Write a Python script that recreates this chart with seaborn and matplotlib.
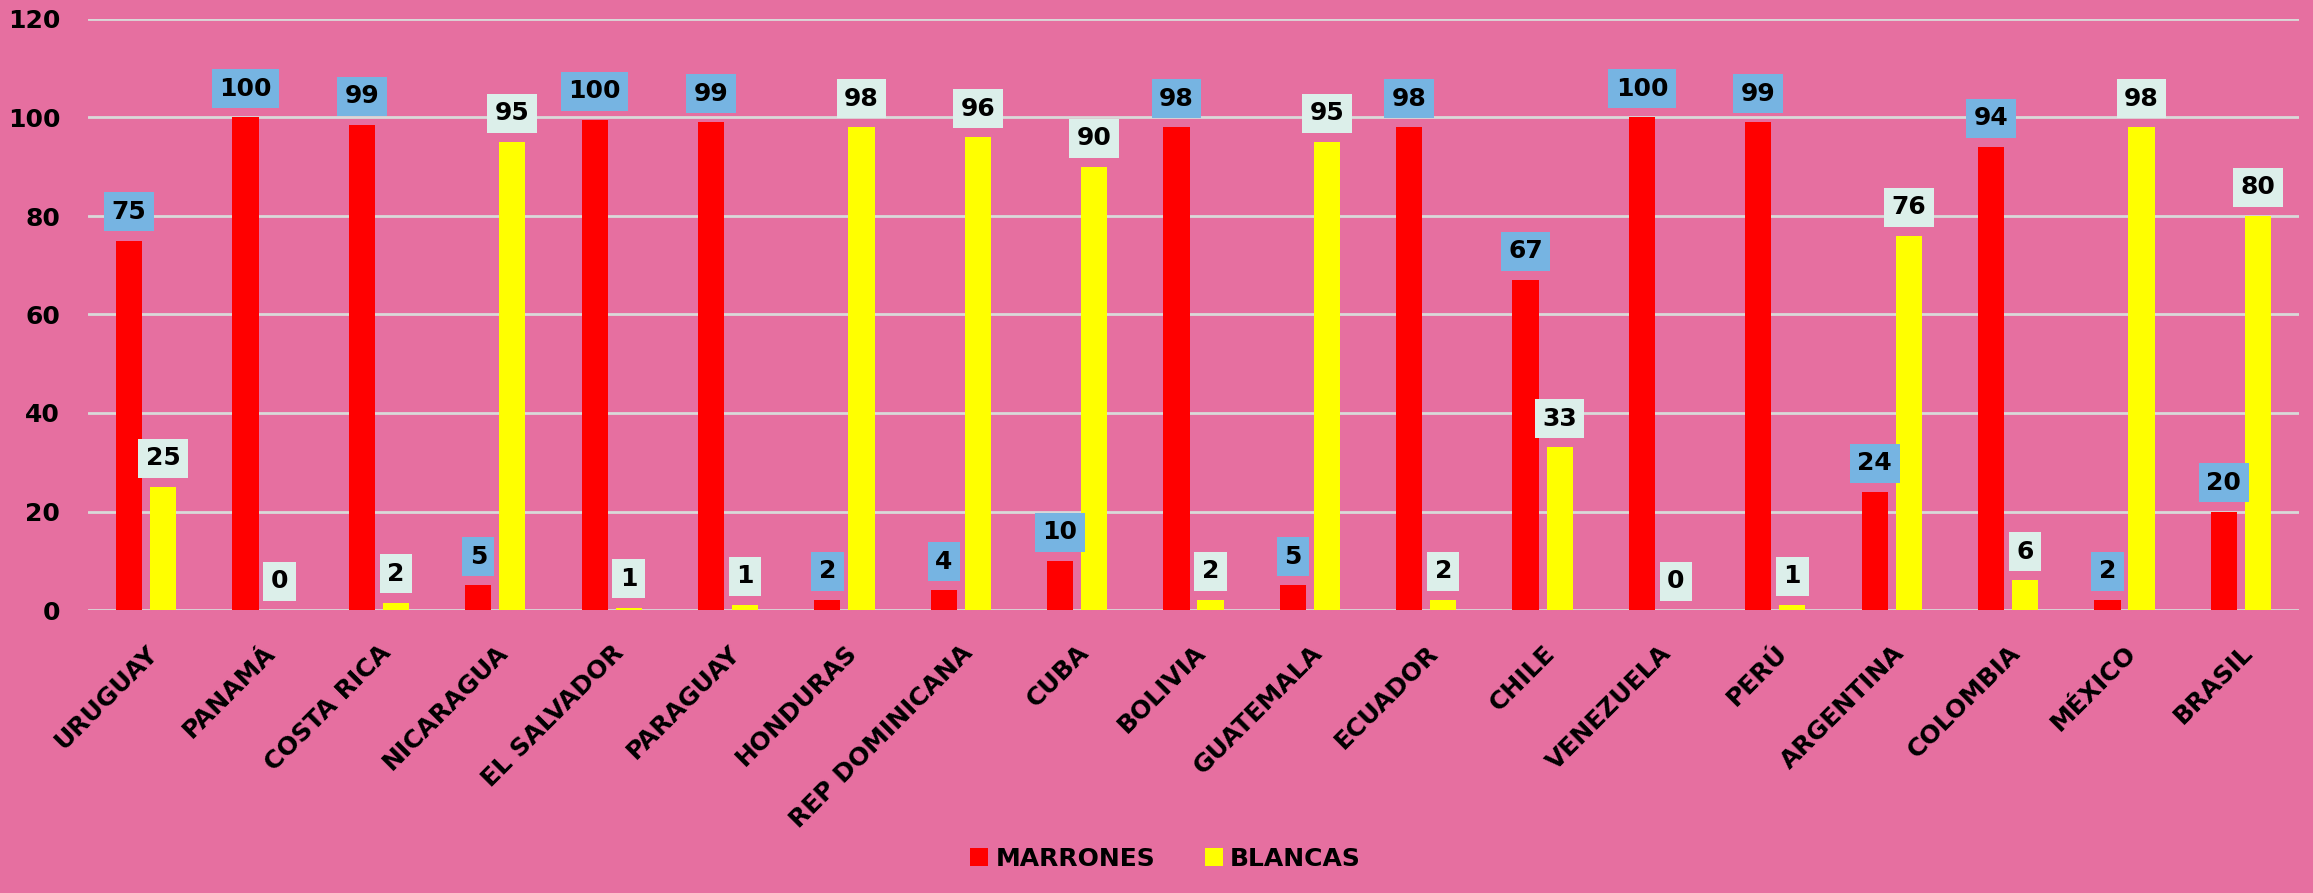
import pandas as pd
import numpy as np
import matplotlib
matplotlib.use("Agg")
import matplotlib.pyplot as plt
import seaborn as sns

sns.set_style("white")
plt.rcParams['font.family'] = ['DejaVu Sans']
plt.rcParams['font.weight'] = 'bold'
plt.rcParams['text.color'] = 'black'
plt.rcParams['xtick.color'] = 'black'
plt.rcParams['ytick.color'] = 'black'

paises = ['URUGUAY', 'PANAMÁ', 'COSTA RICA', 'NICARAGUA', 'EL SALVADOR', 'PARAGUAY',
          'HONDURAS', 'REP DOMINICANA', 'CUBA', 'BOLIVIA', 'GUATEMALA', 'ECUADOR',
          'CHILE', 'VENEZUELA', 'PERÚ', 'ARGENTINA', 'COLOMBIA', 'MÉXICO', 'BRASIL']
marrones = [75, 100, 98.5, 5, 99.5, 99, 2, 4, 10, 98, 5, 98, 67, 100, 99, 24, 94, 2, 20]
blancas = [25, 0, 1.5, 95, 0.5, 1, 98, 96, 90, 2, 95, 2, 33, 0, 1, 76, 6, 98, 80]

fondo = '#E66FA0'
colores = {'MARRONES': '#FF0000', 'BLANCAS': '#FFFF00'}
cajas = {'MARRONES': '#76B4E2', 'BLANCAS': '#DCEFEA'}

df = pd.DataFrame({'pais': paises * 2,
                   'grupo': ['MARRONES'] * len(paises) + ['BLANCAS'] * len(paises),
                   'valor': marrones + blancas})

fig = plt.figure(figsize=(23.13, 8.93), dpi=100, facecolor=fondo)
ax = fig.add_axes([88 / 2313, 283 / 893, 2211 / 2313, 591 / 893])
ax.set_facecolor(fondo)

sns.barplot(data=df, x='pais', y='valor', hue='grupo', hue_order=['MARRONES', 'BLANCAS'],
            palette=colores, width=0.585, gap=0.23, ax=ax, legend=True, errorbar=None,
            saturation=1, linewidth=0)

ax.set_ylim(0, 120)
ax.set_yticks(range(0, 121, 20))
ax.set_xlim(-0.5, len(paises) - 0.5)
ax.yaxis.grid(True, color='#D9D9D9', linewidth=2)
ax.set_axisbelow(True)
for s in ax.spines.values():
    s.set_visible(False)
ax.set_xlabel('')
ax.set_ylabel('')
ax.tick_params(axis='y', labelsize=18, length=0, pad=20)
ax.tick_params(axis='x', labelsize=18, length=0, pad=22)
plt.setp(ax.get_xticklabels(), rotation=45, ha='right', rotation_mode='anchor')

for cont, grupo in zip(ax.containers, ['MARRONES', 'BLANCAS']):
    vals = [b.get_height() for b in cont]
    etiquetas = [str(int(np.floor(v + 0.5))) for v in vals]
    ax.bar_label(cont, labels=etiquetas, padding=12, fontsize=18, fontweight='bold',
                 color='black',
                 bbox=dict(boxstyle='square,pad=0.3', facecolor=cajas[grupo], edgecolor='none'))

ax.legend(loc='lower center', bbox_to_anchor=(0.504, 0.0), bbox_transform=fig.transFigure,
          ncol=2, frameon=False, fontsize=18, handlelength=0.7, handleheight=0.7,
          handletextpad=0.3, columnspacing=2.0, labelcolor='black')

fig.savefig('out.png', dpi=100, facecolor=fondo)
